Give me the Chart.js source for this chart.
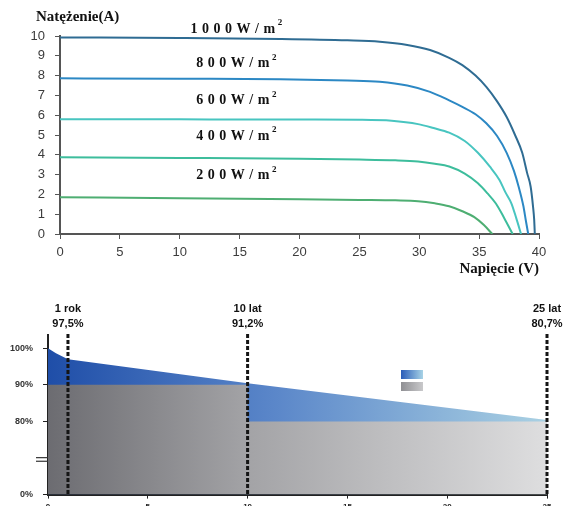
<!DOCTYPE html>
<html>
<head>
<meta charset="utf-8">
<script src="https://cdn.jsdelivr.net/npm/chart.js@4.4.1/dist/chart.umd.min.js"></script>
<style>
  body { margin: 0; background: #fff; width: 563px; height: 506px; overflow: hidden; position: relative; }
  canvas { position: absolute; left: 0; }
  #ivChart { top: 0; }
  #degChart { top: 280px; }
</style>
</head>
<body>
<canvas id="ivChart" width="563" height="280"></canvas>
<canvas id="degChart" width="563" height="230"></canvas>
<script>
// ---- I-V curves (voltage V, current A) ----
var irradiance = ['1000', '800', '600', '400', '200']
var curveColors = ['#2f6c93', '#2c88c4', '#48c5c0', '#3dbd9c', '#4eae72']
var labelCurrent = [10.35, 8.62, 6.75, 4.95, 2.97]
var labelVoltage = 15

var v1000 = [0, 10, 18.4, 24, 26.7, 29, 30.9, 32.5, 33.6, 34.7, 35.6, 36.5, 37.3, 38.0, 38.6, 39.0, 39.3, 39.5, 39.6, 39.65]
var i1000 = [9.93, 9.9, 9.85, 9.78, 9.71, 9.55, 9.29, 8.9, 8.53, 8.0, 7.43, 6.7, 5.91, 5.0, 4.1, 3.1, 2.4, 1.4, 0.7, 0]
var v800 = [0, 10, 18.4, 24, 26.7, 29, 30.9, 32.5, 33.6, 34.7, 35.6, 36.5, 37.3, 37.9, 38.3, 38.7, 38.9, 39.1]
var i800 = [7.86, 7.84, 7.82, 7.75, 7.69, 7.5, 7.18, 6.75, 6.42, 6.05, 5.59, 4.95, 4.1, 3.2, 2.39, 1.4, 0.68, 0]
var v600 = [0, 10, 20, 25, 27.7, 29.9, 31.2, 32.5, 33.8, 34.9, 35.9, 36.7, 37.2, 37.7, 38.1, 38.5]
var i600 = [5.8, 5.79, 5.78, 5.77, 5.72, 5.55, 5.35, 5.12, 4.7, 4.1, 3.4, 2.73, 2.1, 1.54, 0.8, 0]
var v400 = [0, 10, 20, 25, 28, 29.9, 31.3, 32.5, 33.8, 34.9, 35.7, 36.4, 37.1, 37.8]
var i400 = [3.87, 3.84, 3.8, 3.76, 3.72, 3.66, 3.55, 3.41, 3.05, 2.56, 2.05, 1.54, 0.8, 0]
var v200 = [0, 10, 20, 25, 28, 29.9, 31.3, 32.5, 33.6, 34.6, 35.4, 36.1]
var i200 = [1.86, 1.8, 1.75, 1.72, 1.7, 1.66, 1.55, 1.4, 1.15, 0.85, 0.45, 0]

// ---- degradation chart ----
var guaranteeYears = [0, 10, 25]
var guaranteeValues = [90, 80, 80]
var powerYears = [0, 0.4, 1, 10, 25]
var powerValues = [100, 98.6, 97.0, 90.4, 80.4]
var markerYears = [1, 10, 25]
var markerTitles = ['1 rok', '10 lat', '25 lat']
var markerValues = ['97,5%', '91,2%', '80,7%']
var breakBase = 60   // value drawn as "0%" below the axis break
var yTickValues = [60, 80, 90, 100]
var yTickLabels = ['0%', '80%', '90%', '100%']

function pairs(xs, ys) {
    return xs.map(function(x, i) { return { x: x, y: ys[i] } })
}

window.onload = function() {
    showIV()
    showDegradation()
}

function showIV() {
    var series = [[v1000, i1000], [v800, i800], [v600, i600], [v400, i400], [v200, i200]]
    var datasets = series.map(function(s, i) {
        return {
            label: irradiance[i],
            data: pairs(s[0], s[1]),
            borderColor: curveColors[i],
            borderWidth: 2,
            pointRadius: 0,
            cubicInterpolationMode: 'monotone',
            fill: false
        }
    })

    var labelsPlugin = {
        id: 'ivLabels',
        afterDraw: function(chart) {
            var c = chart.ctx
            var x = chart.scales.x, y = chart.scales.y
            c.save()
            c.fillStyle = '#111'
            c.font = 'bold 15px "Liberation Serif"'
            c.textAlign = 'left'
            c.textBaseline = 'middle'
            c.fillText('Natężenie(A)', 36, 17)

            c.letterSpacing = '4.5px'
            irradiance.forEach(function(txt, i) {
                var main = txt + 'W/m'
                c.font = 'bold 14px "Liberation Serif"'
                var w = c.measureText(main).width
                c.font = 'bold 9px "Liberation Serif"'
                var w2 = c.measureText('2').width
                var cx = x.getPixelForValue(labelVoltage)
                var cy = y.getPixelForValue(labelCurrent[i])
                var left = cx - (w + w2) / 2
                c.font = 'bold 14px "Liberation Serif"'
                c.fillText(main, left, cy)
                c.font = 'bold 9px "Liberation Serif"'
                c.fillText('2', left + w - 2, cy - 6)
            })
            c.restore()
        }
    }

    var ctx = document.getElementById('ivChart').getContext('2d')
    new Chart(ctx, {
        type: 'line',
        data: { datasets: datasets },
        options: {
            responsive: false,
            animation: false,
            layout: { padding: { top: 36, right: 24, left: 0, bottom: 0 } },
            plugins: { legend: { display: false }, tooltip: { enabled: false } },
            scales: {
                x: {
                    type: 'linear', min: 0, max: 40,
                    ticks: { stepSize: 5, color: '#3c3c3c', padding: 6, font: { family: 'Liberation Sans', size: 13 } },
                    grid: { drawOnChartArea: false, tickLength: 5, color: '#555' },
                    border: { color: '#555', width: 2 },
                    title: { display: true, text: 'Napięcie (V)', align: 'end', color: '#111',
                             font: { family: 'Liberation Serif', size: 15, weight: 'bold' }, padding: { top: 0, bottom: 2 } },
                    afterFit: function(s) { s.height = 46 }
                },
                y: {
                    min: 0, max: 10,
                    ticks: { stepSize: 1, color: '#3c3c3c', padding: 10, font: { family: 'Liberation Sans', size: 13 } },
                    grid: { drawOnChartArea: false, tickLength: 5, color: '#555' },
                    border: { color: '#555', width: 2 },
                    afterFit: function(s) { s.width = 60 }
                }
            }
        },
        plugins: [labelsPlugin]
    })
}

function showDegradation() {
    function hGradient(ctx, stops) {
        var ca = ctx.chart.chartArea
        if (!ca) return stops[0][1]
        var g = ctx.chart.ctx.createLinearGradient(ca.left, 0, ca.right, 0)
        stops.forEach(function(s) { g.addColorStop(s[0], s[1]) })
        return g
    }
    var grayStops = [[0, '#6c6c71'], [0.4, '#a3a3a6'], [1, '#dededf']]
    var blueStops = [[0, '#1f4ea8'], [0.45, '#5a86c9'], [1, '#aad1e3']]

    var decoPlugin = {
        id: 'deco',
        afterDatasetsDraw: function(chart) {
            var c = chart.ctx
            var x = chart.scales.x, y = chart.scales.y, ca = chart.chartArea
            c.save()
            // dashed year markers
            c.strokeStyle = '#151515'
            c.lineWidth = 3
            c.setLineDash([4, 2])
            markerYears.forEach(function(yr, i) {
                var px = x.getPixelForValue(yr)
                c.beginPath()
                c.moveTo(px, ca.top - 1)
                c.lineTo(px, ca.bottom)
                c.stroke()
                c.fillStyle = '#111'
                c.font = 'bold 11px "Liberation Sans"'
                c.textAlign = 'center'
                c.textBaseline = 'middle'
                c.fillText(markerTitles[i], px, ca.top - 26)
                c.fillText(markerValues[i], px, ca.top - 11)
            })
            c.setLineDash([])
            // axis break marks
            var by = y.getPixelForValue(69.6)
            c.strokeStyle = '#333'
            c.lineWidth = 1.2
            ;[-1.8, 1.8].forEach(function(d) {
                c.beginPath()
                c.moveTo(ca.left - 12, by + d)
                c.lineTo(ca.left, by + d)
                c.stroke()
            })
            // legend swatches
            var lx = ca.left + 353, ly = ca.top + 35
            var g1 = c.createLinearGradient(lx, 0, lx + 22, 0)
            g1.addColorStop(0, '#2a5cb8'); g1.addColorStop(1, '#a8d3e6')
            c.fillStyle = g1
            c.fillRect(lx, ly, 22, 9)
            var g2 = c.createLinearGradient(lx, 0, lx + 22, 0)
            g2.addColorStop(0, '#8f8f93'); g2.addColorStop(1, '#c9c9cb')
            c.fillStyle = g2
            c.fillRect(lx, ly + 12, 22, 9)
            c.restore()
        }
    }

    var ctx = document.getElementById('degChart').getContext('2d')
    new Chart(ctx, {
        type: 'line',
        data: {
            datasets: [{
                label: 'gwarancja',
                data: pairs(guaranteeYears, guaranteeValues),
                stepped: 'before',
                borderWidth: 0,
                pointRadius: 0,
                fill: 'start',
                backgroundColor: function(c) { return hGradient(c, grayStops) }
            }, {
                label: 'moc',
                data: pairs(powerYears, powerValues),
                borderWidth: 0,
                pointRadius: 0,
                tension: 0,
                fill: 'start',
                backgroundColor: function(c) { return hGradient(c, blueStops) }
            }]
        },
        options: {
            responsive: false,
            animation: false,
            layout: { padding: { top: 55, right: 16, left: 0, bottom: 0 } },
            plugins: { legend: { display: false }, tooltip: { enabled: false } },
            scales: {
                x: {
                    type: 'linear', min: 0, max: 25,
                    ticks: { stepSize: 5, color: '#222', padding: 3, font: { family: 'Liberation Sans', size: 8, weight: 'bold' } },
                    grid: { drawOnChartArea: false, tickLength: 4, color: '#222' },
                    border: { color: '#222', width: 2 },
                    afterFit: function(s) { s.height = 15 }
                },
                y: {
                    min: breakBase, max: 103.6,
                    afterBuildTicks: function(s) { s.ticks = yTickValues.map(function(v) { return { value: v } }) },
                    ticks: {
                        color: '#333', padding: 10,
                        font: { family: 'Liberation Sans', size: 9, weight: 'bold' },
                        callback: function(v) { return yTickLabels[yTickValues.indexOf(v)] }
                    },
                    grid: { drawOnChartArea: false, tickLength: 5, color: '#222' },
                    border: { color: '#222', width: 2 },
                    afterFit: function(s) { s.width = 48 }
                }
            }
        },
        plugins: [decoPlugin]
    })
}
</script>
</body>
</html>
